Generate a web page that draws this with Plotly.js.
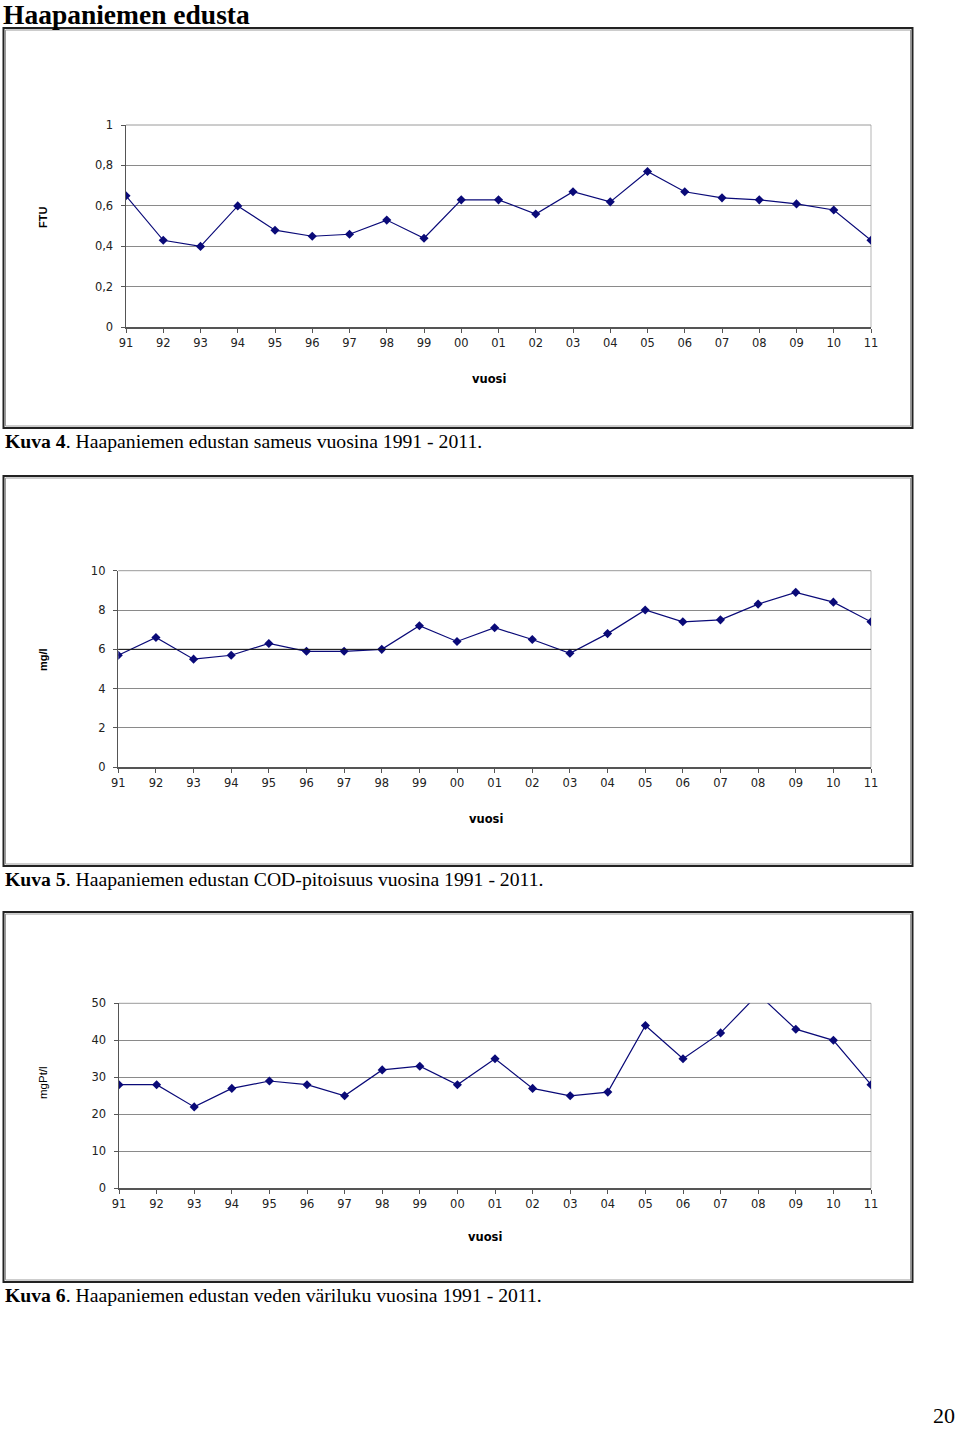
<!DOCTYPE html>
<html>
<head>
<meta charset="utf-8">
<script src="https://cdn.plot.ly/plotly-3.0.1.min.js"></script>
<style>
  html, body { margin: 0; padding: 0; background: #fff; }
  #chart { width: 960px; height: 1429px; }
</style>
</head>
<body>
<div id="chart"></div>
<script>
// ---- data ----
const years = ['91','92','93','94','95','96','97','98','99','00','01','02','03','04','05','06','07','08','09','10','11'];
const sameus = [0.65,0.43,0.40,0.60,0.48,0.45,0.46,0.53,0.44,0.63,0.63,0.56,0.67,0.62,0.77,0.67,0.64,0.63,0.61,0.58,0.43];
const cod = [5.7,6.6,5.5,5.7,6.3,5.9,5.9,6.0,7.2,6.4,7.1,6.5,5.8,6.8,8.0,7.4,7.5,8.3,8.9,8.4,7.4];
const variluku = [28,28,22,27,29,28,25,32,33,28,35,27,25,26,44,35,42,52.5,43,40,28];

const pageTitle = 'Haapaniemen edusta';
const captions = [
  '<b>Kuva 4</b>. Haapaniemen edustan sameus vuosina 1991 - 2011.',
  '<b>Kuva 5</b>. Haapaniemen edustan COD-pitoisuus vuosina 1991 - 2011.',
  '<b>Kuva 6</b>. Haapaniemen edustan veden väriluku vuosina 1991 - 2011.'
];
const yTitles = ['<b>FTU</b>', '<b>mg/l</b>', 'mgPt/l'];
const xTitle = '<b>vuosi</b>';
const pageNumber = '20';

// ---- layout helpers ----
const W = 960, H = 1429;
const px = v => v / W;
const py = v => 1 - v / H;

const navy = '#0a0a78';
function series(y, xa, ya) {
  return {
    type: 'scatter', mode: 'lines+markers',
    x: years, y: y, xaxis: xa, yaxis: ya,
    line: { color: navy, width: 1.2 },
    marker: { symbol: 'diamond', size: 7, color: navy },
    hoverinfo: 'x+y', showlegend: false
  };
}

const tickFont = { family: 'DejaVu Sans, Arial, sans-serif', size: 11.5, color: '#222' };

function xAxis(x0, x1, anchor) {
  return {
    domain: [px(x0), px(x1)], anchor: anchor, type: 'category',
    range: [0, 20], showgrid: false, zeroline: false,
    showline: true, linecolor: '#555', linewidth: 1.5,
    ticks: 'outside', ticklen: 4, tickcolor: '#555', tickwidth: 1,
    tickfont: tickFont, fixedrange: true
  };
}
function yAxis(top, bottom, anchor, range, dtick) {
  return {
    domain: [py(bottom), py(top)], anchor: anchor,
    range: range, dtick: dtick, tick0: 0,
    showgrid: true, gridcolor: '#8a8a8a', gridwidth: 1,
    zeroline: false, showline: true, linecolor: '#555', linewidth: 1.5,
    ticks: 'outside', ticklen: 4, tickcolor: '#555', tickwidth: 1,
    ticklabelstandoff: 5,
    tickfont: tickFont, fixedrange: true
  };
}

const plots = [
  { x0: 126, x1: 871, top: 125, bottom: 327.3 },
  { x0: 118.3, x1: 871, top: 570.7, bottom: 767.3 },
  { x0: 119, x1: 871, top: 1003.3, bottom: 1188.3 }
];
const frames = [[28, 428], [476, 866], [912, 1282]];
const captionY = [441, 879, 1295];
const yTitleY = [218, 660, 1083];
const xTitlePos = [[489, 379], [486, 819], [485, 1237]];

const data = [
  series(sameus, 'x', 'y'),
  series(cod, 'x2', 'y2'),
  series(variluku, 'x3', 'y3')
];

const shapes = [];
frames.forEach(([t, b]) => {
  shapes.push({ type: 'rect', xref: 'paper', yref: 'paper',
    x0: px(3.5), x1: px(912.5), y0: py(b), y1: py(t),
    line: { color: '#222', width: 2 }, layer: 'above' });
  shapes.push({ type: 'rect', xref: 'paper', yref: 'paper',
    x0: px(5.5), x1: px(910.5), y0: py(b - 2), y1: py(t + 2),
    line: { color: '#9a9a9a', width: 1 }, layer: 'above' });
});
// light right edge and top edge of each plot area
plots.forEach(p => {
  shapes.push({ type: 'line', xref: 'paper', yref: 'paper',
    x0: px(p.x1), x1: px(p.x1), y0: py(p.bottom), y1: py(p.top),
    line: { color: '#b5b5b5', width: 1 }, layer: 'below' });
  shapes.push({ type: 'line', xref: 'paper', yref: 'paper',
    x0: px(p.x0), x1: px(p.x1), y0: py(p.top), y1: py(p.top),
    line: { color: '#9a9a9a', width: 1 }, layer: 'below' });
});
// darker reference line at 6 in COD chart
shapes.push({ type: 'line', xref: 'x2 domain', yref: 'y2',
  x0: 0, x1: 1, y0: 6, y1: 6, line: { color: '#111', width: 1 }, layer: 'above' });

const annotations = [];
annotations.push({ xref: 'paper', yref: 'paper', x: px(2), y: py(14),
  xanchor: 'left', yanchor: 'middle', showarrow: false, borderpad: 0,
  text: '<b>' + pageTitle + '</b>',
  font: { family: 'Liberation Serif, Times New Roman, serif', size: 27.5, color: '#000' } });
captions.forEach((c, i) => {
  annotations.push({ xref: 'paper', yref: 'paper', x: px(3), y: py(captionY[i]),
    xanchor: 'left', yanchor: 'middle', showarrow: false, text: c,
    font: { family: 'Liberation Serif, Times New Roman, serif', size: 19.7, color: '#000' } });
  annotations.push({ xref: 'paper', yref: 'paper', x: px(43), y: py(yTitleY[i]),
    xanchor: 'center', yanchor: 'middle', showarrow: false, text: yTitles[i], textangle: -90,
    font: { family: 'Liberation Sans, Arial, sans-serif', size: i === 2 ? 11.5 : 11, color: '#000' } });
  annotations.push({ xref: 'paper', yref: 'paper', x: px(xTitlePos[i][0]), y: py(xTitlePos[i][1]),
    xanchor: 'center', yanchor: 'middle', showarrow: false, text: xTitle,
    font: { family: 'DejaVu Sans, Arial, sans-serif', size: 11.5, color: '#000' } });
});
annotations.push({ xref: 'paper', yref: 'paper', x: px(956), y: 0,
  xanchor: 'right', yanchor: 'bottom', showarrow: false, borderpad: 0, text: pageNumber,
  font: { family: 'Liberation Serif, Times New Roman, serif', size: 22, color: '#000' } });

const layout = {
  width: W, height: H, autosize: false,
  margin: { l: 0, r: 0, t: 0, b: 0, pad: 0 },
  paper_bgcolor: '#fff', plot_bgcolor: '#fff',
  separators: ', ',
  showlegend: false,
  xaxis: xAxis(plots[0].x0, plots[0].x1, 'y'),
  yaxis: yAxis(plots[0].top, plots[0].bottom, 'x', [0, 1], 0.2),
  xaxis2: xAxis(plots[1].x0, plots[1].x1, 'y2'),
  yaxis2: yAxis(plots[1].top, plots[1].bottom, 'x2', [0, 10], 2),
  xaxis3: xAxis(plots[2].x0, plots[2].x1, 'y3'),
  yaxis3: yAxis(plots[2].top, plots[2].bottom, 'x3', [0, 50], 10),
  shapes: shapes,
  annotations: annotations
};

Plotly.newPlot('chart', data, layout, { displayModeBar: false, staticPlot: true });
</script>
</body>
</html>
